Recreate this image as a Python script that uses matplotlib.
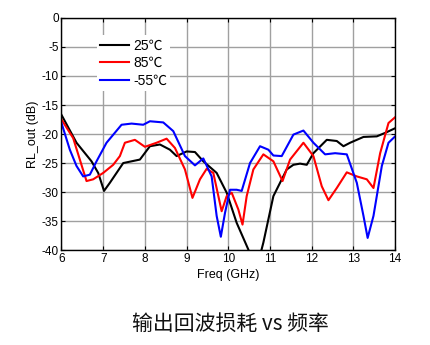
import matplotlib
matplotlib.use("Agg")
import matplotlib.pyplot as plt

plt.rcParams["font.family"] = ["Liberation Sans", "Noto Sans CJK SC", "DejaVu Sans"]
plt.rcParams["axes.unicode_minus"] = False

# --- data -------------------------------------------------------------------
f_25 = [6.0, 6.36, 6.72, 6.88, 7.02, 7.16, 7.48, 7.88, 8.12, 8.36, 8.6, 8.76, 9.0, 9.2,
        9.4, 9.72, 9.96, 10.2, 10.48, 10.65, 10.84, 11.08, 11.4, 11.56, 11.72, 11.88,
        12.04, 12.36, 12.6, 12.76, 12.92, 13.24, 13.56, 13.76, 14.0]
rl_25 = [-16.7, -21.5, -24.7, -26.7, -29.8, -28.4, -25.0, -24.4, -22.1, -21.8, -22.7,
         -23.8, -23.0, -23.1, -24.7, -26.7, -30.1, -35.3, -39.9, -44.0, -38.7, -30.7,
         -26.1, -25.3, -25.1, -25.3, -23.3, -21.0, -21.2, -22.1, -21.5, -20.5, -20.4,
         -19.8, -19.0]

f_85 = [6.0, 6.28, 6.44, 6.6, 6.76, 7.0, 7.24, 7.4, 7.52, 7.76, 8.0, 8.28, 8.52, 8.72,
        8.96, 9.14, 9.32, 9.48, 9.64, 9.84, 9.96, 10.08, 10.24, 10.34, 10.44, 10.6,
        10.84, 11.08, 11.3, 11.48, 11.8, 12.04, 12.24, 12.4, 12.6, 12.84, 13.08, 13.32,
        13.48, 13.64, 13.84, 14.0]
rl_85 = [-17.5, -20.7, -24.4, -28.1, -27.8, -26.7, -25.3, -23.8, -21.5, -21.0, -22.2,
         -21.5, -20.8, -22.4, -26.1, -31.0, -27.8, -26.0, -26.7, -33.3, -30.7, -30.1,
         -33.0, -35.6, -30.7, -26.1, -23.5, -24.7, -28.1, -24.4, -21.5, -23.8, -29.0,
         -31.4, -29.3, -26.6, -27.3, -27.8, -29.3, -23.3, -18.1, -17.1]

f_m55 = [6.0, 6.2, 6.36, 6.52, 6.68, 6.84, 7.08, 7.44, 7.68, 7.96, 8.12, 8.44, 8.68,
         8.96, 9.2, 9.4, 9.6, 9.72, 9.82, 9.92, 10.04, 10.2, 10.32, 10.52, 10.76, 10.96,
         11.08, 11.28, 11.56, 11.8, 12.04, 12.32, 12.56, 12.84, 13.08, 13.24, 13.34,
         13.48, 13.68, 13.84, 14.0]
rl_m55 = [-18.1, -22.7, -25.5, -27.3, -27.0, -24.7, -21.5, -18.4, -18.2, -18.4, -17.8,
          -18.0, -19.5, -23.8, -25.4, -24.2, -27.3, -34.1, -37.7, -33.6, -29.6, -29.6,
          -29.8, -25.0, -22.1, -22.7, -23.7, -23.8, -20.1, -19.4, -21.5, -23.5, -23.3,
          -23.5, -28.4, -34.1, -37.9, -34.1, -25.5, -21.5, -20.4]

labels = ["25\u2103", "85\u2103", "-55\u2103"]
colors = ["#000000", "#ff0000", "#0000ff"]

x_ticks = [6, 7, 8, 9, 10, 11, 12, 13, 14]
y_ticks = [0, -5, -10, -15, -20, -25, -30, -35, -40]

fig = plt.figure(figsize=(4.3, 3.45), dpi=100)
ax = fig.add_axes([0.143, 0.275, 0.776, 0.673])

for f, rl, lab, c in zip([f_25, f_85, f_m55], [rl_25, rl_85, rl_m55], labels, colors):
    ax.plot(f, rl, color=c, lw=1.5, label=lab)

ax.set_xlim(6, 14)
ax.set_ylim(-40, 0)
ax.set_xticks(x_ticks)
ax.set_yticks(y_ticks)
ax.grid(True, color="#a0a0a0", lw=1.0)
ax.set_axisbelow(True)
ax.tick_params(direction="in", top=True, right=True, labelsize=8.5, length=3, pad=2)
for s in ax.spines.values():
    s.set_linewidth(1.0)

ax.set_xlabel("Freq (GHz)", fontsize=9, labelpad=3)
ax.set_ylabel("RL_out (dB)", fontsize=9, labelpad=2)

leg = ax.legend(loc="upper left", bbox_to_anchor=(0.085, 0.955), frameon=True,
                fontsize=10, handlelength=2.1, handletextpad=0.25, labelspacing=0.25,
                borderpad=0.25, fancybox=False, framealpha=1.0)
leg.get_frame().set_edgecolor("none")
leg.get_frame().set_facecolor("white")

fig.text(0.535, 0.06, "输出回波损耗 vs 频率", ha="center", va="center", fontsize=15,
         family=["Noto Sans CJK SC", "DejaVu Sans"], color="#111111")

fig.savefig("out.png", dpi=100)
